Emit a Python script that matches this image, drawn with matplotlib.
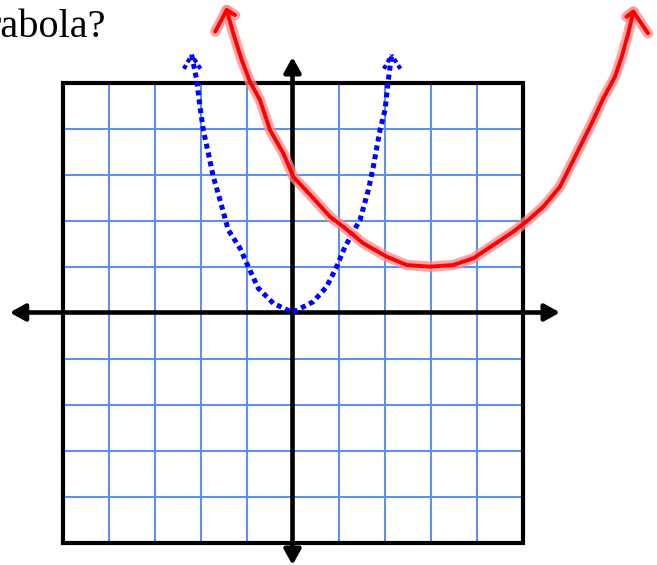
import matplotlib
matplotlib.use("Agg")
import matplotlib.pyplot as plt
from matplotlib.patches import FancyArrowPatch
import numpy as np

# ---- data (grid units) ----
title_text = "rabola?"
grid_ticks = list(range(-5, 6))

blue_x = [-2.191, -2.083, -2.011, -1.939, -1.830, -1.722, -1.576, -1.396, -1.141,
          -0.961, -0.743, -0.417, 0.0, 0.452, 0.743, 0.961, 1.141, 1.467,
          1.649, 1.757, 1.902, 2.011, 2.083, 2.156]
blue_y = [5.598, 5.054, 4.474, 3.967, 3.461, 2.952, 2.446, 1.793, 1.396,
          0.996, 0.526, 0.200, 0.0, 0.235, 0.561, 0.996, 1.430, 2.011,
          2.663, 3.170, 3.967, 4.402, 5.054, 5.598]

red_x = [-1.430, -1.287, -1.104, -0.924, -0.707, -0.489, -0.200, 0.017, 0.452,
         0.815, 1.104, 1.539, 2.048, 2.483, 2.989, 3.496, 3.930, 4.365, 4.800,
         5.126, 5.452, 5.815, 6.070, 6.287, 6.504, 6.757, 7.011, 7.157, 7.300, 7.409]
red_y = [6.576, 6.070, 5.489, 5.017, 4.620, 3.967, 3.461, 2.952, 2.483,
         2.083, 1.865, 1.504, 1.213, 1.033, 0.996, 1.033, 1.178, 1.467, 1.757,
         2.011, 2.300, 2.735, 3.243, 3.678, 4.113, 4.657, 5.126, 5.561, 6.070, 6.539]

# ---- figure / layout ----
W, H = 657, 565
ox, oy, cell = 292.5, 312.5, 46.0
fig = plt.figure(figsize=(W / 100, H / 100), dpi=100)
ax = fig.add_axes([0, 0, 1, 1])
ax.set_xlim(-ox / cell, (W - ox) / cell)
ax.set_ylim(-(H - oy) / cell, oy / cell)
ax.axis("off")

grid_color = "#5f8ff0"
for t in grid_ticks:
    ax.plot([t, t], [grid_ticks[0], grid_ticks[-1]], color=grid_color, lw=1.5, zorder=1)
    ax.plot([grid_ticks[0], grid_ticks[-1]], [t, t], color=grid_color, lw=1.5, zorder=1)

lo, hi = grid_ticks[0], grid_ticks[-1]
ax.plot([lo, hi, hi, lo, lo], [lo, lo, hi, hi, lo], color="black", lw=3.0,
        solid_joinstyle="miter", zorder=2)

# axes arrows
xmin, xmax = ax.get_xlim()
ymin, ymax = ax.get_ylim()
arrow_kw = dict(arrowstyle="<|-|>,head_length=0.45,head_width=0.25", mutation_scale=20,
                color="black", lw=3.3, shrinkA=0, shrinkB=0, zorder=3)
ax.add_patch(FancyArrowPatch((-10 / cell + xmin + 0.43, 0), (5.815, 0), **arrow_kw))
ax.add_patch(FancyArrowPatch((0, ymin), (0, 5.554), **arrow_kw))

# blue dotted parabola
ax.plot(blue_x, blue_y, color="#0000ff", lw=3.6, linestyle=(0, (1.0, 0.8)),
        dash_capstyle="butt", zorder=5)
for i in (0, -1):
    tx, ty = blue_x[i], blue_y[i]
    for dx in (-0.17, 0.19):
        ax.plot([tx + dx, tx], [ty - 0.3, ty], color="#0000ff", lw=3.0,
                linestyle=(0, (1.0, 0.8)), dash_capstyle="butt", zorder=5)

# red hand-drawn parabola with glow
def red_line(xs, ys):
    ax.plot(xs, ys, color="#ff8a8a", lw=7.5, alpha=0.75, solid_capstyle="round",
            solid_joinstyle="round", zorder=6)
    ax.plot(xs, ys, color="#ff0000", lw=2.8, solid_capstyle="round",
            solid_joinstyle="round", zorder=7)

red_line(red_x, red_y)
for i, (dl, dr) in ((0, ((-0.25, -0.47), (0.18, -0.11))), (-1, ((-0.15, -0.11), (0.32, -0.47)))):
    tx, ty = red_x[i], red_y[i]
    red_line([tx + dl[0], tx, tx + dr[0]], [ty + dl[1], ty, ty + dr[1]])

fig.text(106 / W, 1 - 37 / H, title_text, ha="right", va="baseline",
         fontsize=29, family="Liberation Serif", color="black")

fig.savefig("out.png", dpi=100)
